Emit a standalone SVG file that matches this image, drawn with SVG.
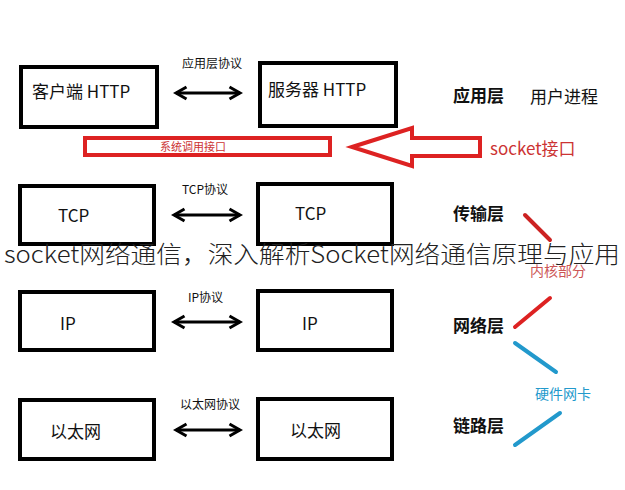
<svg xmlns="http://www.w3.org/2000/svg" width="625" height="490" viewBox="0 0 625 490">
<defs>
<marker id="ah" viewBox="0 0 10 10" refX="8" refY="5" markerWidth="5" markerHeight="7" orient="auto-start-reverse"><path d="M1,1 L8,5 L1,9" fill="none" stroke="#000" stroke-width="2"/></marker>
</defs>
<style>
.box{fill:#fff;stroke:#000;stroke-width:4}
text{font-family:"Noto Sans CJK SC","Liberation Sans",sans-serif;fill:#111}
.t{font-size:17px}
.s{font-size:12px}
.b{font-size:17px;font-weight:bold}
.c{stroke:#000;stroke-width:3;marker-start:url(#ah);marker-end:url(#ah)}
</style>
<rect width="625" height="490" fill="#fff"/>
<g id="n1"><rect class="box" x="21" y="67" width="136" height="60"/><text class="t" x="32" y="98">客户端 HTTP</text></g>
<g id="n2"><rect class="box" x="260" y="63" width="136" height="63"/><text class="t" x="268" y="96">服务器 HTTP</text></g>
<g id="n3"><rect class="box" x="20" y="186" width="134" height="58"/><text class="t" x="58" y="222">TCP</text></g>
<g id="n4"><rect class="box" x="258" y="184" width="134" height="60"/><text class="t" x="295" y="220">TCP</text></g>
<g id="n5"><rect class="box" x="20" y="292" width="134" height="58"/><text class="t" x="60" y="330">IP</text></g>
<g id="n6"><rect class="box" x="258" y="291" width="134" height="59"/><text class="t" x="302" y="330">IP</text></g>
<g id="n7"><rect class="box" x="20" y="400" width="134" height="59"/><text class="t" x="50" y="438">以太网</text></g>
<g id="n8"><rect class="box" x="258" y="399" width="134" height="60"/><text class="t" x="290" y="437">以太网</text></g>
<g id="sys"><rect x="85" y="138" width="245" height="17" fill="#fff" stroke="#d22" stroke-width="4"/><text x="160" y="151" font-size="11" style="fill:#c33">系统调用接口</text></g>
<g id="connectors">
<line class="c" x1="176" y1="93" x2="240" y2="93"/>
<line class="c" x1="174" y1="215" x2="240" y2="215"/>
<line class="c" x1="174" y1="322" x2="240" y2="322"/>
<line class="c" x1="176" y1="430" x2="240" y2="430"/>
<path d="M352,147 L412,128 L412,138 L480,138 L480,156 L412,156 L412,166 Z" fill="#fff" stroke="#d22" stroke-width="4"/>
<line x1="525" y1="215" x2="550" y2="240" stroke="#c22" stroke-width="4" stroke-linecap="round"/>
<line x1="515" y1="327" x2="550" y2="298" stroke="#d22" stroke-width="4" stroke-linecap="round"/>
<line x1="515" y1="343" x2="556" y2="372" stroke="#29c" stroke-width="4" stroke-linecap="round"/>
<line x1="515" y1="445" x2="560" y2="413" stroke="#29c" stroke-width="4" stroke-linecap="round"/>
</g>
<text class="s" x="182" y="68">应用层协议</text>
<text class="s" x="182" y="194">TCP协议</text>
<text class="s" x="188" y="302">IP协议</text>
<text class="s" x="180" y="409">以太网协议</text>
<text class="b" x="453" y="102">应用层</text>
<text class="t" x="530" y="103">用户进程</text>
<text x="490" y="155" font-size="17" style="fill:#c33">socket接口</text>
<text class="b" x="453" y="220">传输层</text>
<text class="b" x="453" y="332">网络层</text>
<text class="b" x="453" y="432">链路层</text>
<text x="530" y="276" font-size="14" style="fill:#c55">内核部分</text>
<text x="535" y="399" font-size="14" style="fill:#29c">硬件网卡</text>
<text x="4" y="263" font-size="24" font-weight="300" textLength="616" lengthAdjust="spacingAndGlyphs" style="fill:#222">socket网络通信，深入解析Socket网络通信原理与应用</text>
</svg>
